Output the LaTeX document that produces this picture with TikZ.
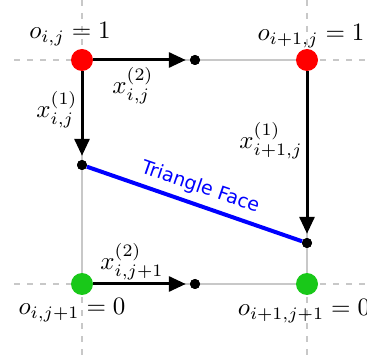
\documentclass[tikz,border=0pt]{standalone}
\usepackage{fontspec}
\newfontfamily\dejavu{DejaVu Sans}
\usetikzlibrary{arrows.meta}
\definecolor{gridgray}{RGB}{200,200,200}
\definecolor{dotgreen}{RGB}{25,200,25}
\begin{document}
\begin{tikzpicture}[x=1pt,y=-1pt,
  gridline/.style={gridgray, line width=2.5pt},
  griddash/.style={gridline, dash pattern=on 6pt off 7pt},
  arr/.style={line width=3pt, shorten >=4pt, -{Triangle[length=17pt,width=15pt]}},
  smalldot/.style={circle, fill=black, inner sep=0pt, minimum size=10pt},
  reddot/.style={circle, fill=red, inner sep=0pt, minimum size=22pt},
  greendot/.style={circle, fill=dotgreen, inner sep=0pt, minimum size=22pt},
  lab/.style={scale=2.5, inner sep=0pt},
  face/.style={line width=4pt, blue}]
\useasboundingbox (0,0) rectangle (367,358);
% grid
\coordinate (gl1) at (14,60);
\coordinate (gr1) at (367,60);
\coordinate (gl2) at (14,284);
\coordinate (gr2) at (367,284);
\coordinate (gt1) at (82,0);
\coordinate (gb1) at (82,358);
\coordinate (gt2) at (307,0);
\coordinate (gb2) at (307,358);
\draw[griddash] (gl1) -- (82,60);
\draw[griddash] (307,60) -- (gr1);
\draw[griddash] (gl2) -- (82,284);
\draw[griddash] (307,284) -- (gr2);
\draw[griddash] (gt1) -- (82,60);
\draw[griddash] (82,284) -- (gb1);
\draw[griddash] (gt2) -- (307,60);
\draw[griddash] (307,284) -- (gb2);
\draw[gridline] (82,60) rectangle (307,284);
% nodes
\node[reddot] (o11) at (82,60) {};
\node[reddot] (o21) at (307,60) {};
\node[greendot] (o12) at (82,284) {};
\node[greendot] (o22) at (307,284) {};
\node[smalldot] (dt) at (195,60) {};
\node[smalldot] (dl) at (82,165) {};
\node[smalldot] (dr) at (307,243) {};
\node[smalldot] (db) at (195,284) {};
% blue face line
\draw[face] (dl) -- node[sloped, above=3pt, font=\dejavu\fontsize{19}{22}\selectfont, text=blue] (tf) {Triangle Face} (dr);
% arrows
\draw[arr] (o11) -- (dt);
\draw[arr] (o11) -- (dl);
\draw[arr] (o21) -- (dr);
\draw[arr] (o12) -- (db);
\node[smalldot] at (dt) {};
\node[smalldot] at (dl) {};
\node[smalldot] at (dr) {};
\node[smalldot] at (db) {};
% labels
\node[lab] (l11) at (70,34) {$o_{i,j} = 1$};
\node[lab] (l21) at (311,36) {$o_{i+1,j} = 1$};
\node[lab] (l12) at (72,310) {$o_{i,j+1} = 0$};
\node[lab] (l22) at (304,311) {$o_{i+1,j+1} = 0$};
\node[lab] (x2a) at (133,86) {$x^{(2)}_{i,j}$};
\node[lab] (x1a) at (57,110) {$x^{(1)}_{i,j}$};
\node[lab] (x1b) at (271,141) {$x^{(1)}_{i+1,j}$};
\node[lab] (x2b) at (132,262) {$x^{(2)}_{i,j+1}$};
\end{tikzpicture}
\end{document}
